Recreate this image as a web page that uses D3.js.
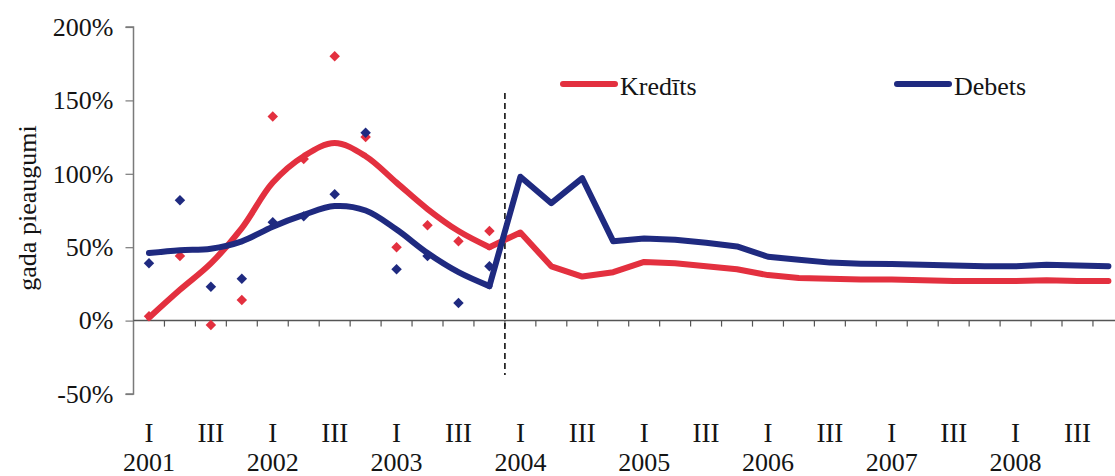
<!DOCTYPE html>
<html>
<head>
<meta charset="utf-8">
<script src="https://cdn.jsdelivr.net/npm/d3@7"></script>
<style>
  html, body { margin: 0; padding: 0; background: #fff; }
  svg { display: block; }
  text { font-family: "Liberation Serif", "Times New Roman", serif; fill: #141414; }
</style>
</head>
<body>
<svg id="chart" width="1115" height="476"></svg>
<script>
// Quarters 2001 Q1 .. 2008 Q4
const years = ["2001", "2002", "2003", "2004", "2005", "2006", "2007", "2008"];
const quarterNames = ["I", "II", "III", "IV"];
const quarterLabels = ["I", "", "III", ""];

// Smoothed trend and forecast (annual growth, %)
const kreditsTrend = [2, 21, 39, 63, 94, 112, 121, 112, 94, 76, 61, 50,
                      60, 37, 30, 33, 40, 39, 37, 35, 31, 29, 28.5, 28,
                      28, 27.5, 27, 27, 27, 27.5, 27, 27];
const debetsTrend  = [46, 48, 49, 54, 64, 72, 78, 75, 62, 46, 33, 23.5,
                      98, 80, 97, 54, 56, 55, 53, 50.5, 43.5, 41.5, 39.5, 38.8,
                      38.5, 38, 37.5, 37, 37, 38, 37.5, 37];

// Actual quarterly observations (annual growth, %)
const kreditsActual = [3, 44, -3, 14, 139, 110, 180, 125, 50, 65, 54, 61];
const debetsActual  = [39, 82, 23, 28.5, 67, 71, 86, 128, 35, 44, 12, 37];

// Last historical quarter; forecast starts after it
const lastActualIndex = 11;

const yTicks = [-50, 0, 50, 100, 150, 200];
const dividerRange = [-37, 155];

const RED = "#e3303f";
const BLUE = "#1f2a80";

const categories = [];
years.forEach(y => quarterNames.forEach(q => categories.push(y + " " + q)));

const svg = d3.select("#chart");

const x = d3.scaleBand()
  .domain(categories)
  .range([133.5, 133.5 + 30.95 * categories.length])
  .paddingInner(0).paddingOuter(0);

const y = d3.scaleLinear().domain([-50, 200]).range([394, 27]);

const cx = i => x(categories[i]) + x.bandwidth() / 2;

// Y axis
const yAxis = svg.append("g")
  .attr("transform", `translate(${x.range()[0]},0)`)
  .call(d3.axisLeft(y).tickValues(yTicks).tickSize(8).tickPadding(12)
        .tickFormat(d => d + "%"));
yAxis.select(".domain").attr("stroke", "#7a7a7a").attr("stroke-width", 1.5)
  .attr("d", `M-8,${y(-50)}H0V${y(200)}H-8`);
yAxis.selectAll(".tick line").attr("stroke", "#7a7a7a").attr("stroke-width", 1.2);
yAxis.selectAll(".tick text").style("font-size", "26px")
  .style("font-family", "'Liberation Serif', serif").attr("fill", "#141414");

// X axis along zero line, ticks between quarters
const xAxisG = svg.append("g").attr("transform", `translate(0,${y(0)})`);
xAxisG.append("line")
  .attr("x1", x.range()[0]).attr("x2", 1115)
  .attr("stroke", "#555").attr("stroke-width", 1.5);
xAxisG.selectAll("line.qtick")
  .data(categories.slice(1))
  .join("line")
  .attr("class", "qtick")
  .attr("x1", d => x(d)).attr("x2", d => x(d))
  .attr("y1", 0).attr("y2", 6)
  .attr("stroke", "#555").attr("stroke-width", 1.2);

// Quarter and year labels
const labelG = svg.append("g");
categories.forEach((c, i) => {
  const q = i % 4;
  if (quarterLabels[q]) {
    labelG.append("text")
      .attr("x", cx(i)).attr("y", 442)
      .attr("text-anchor", "middle")
      .style("font-size", "27px")
      .text(quarterLabels[q]);
  }
  if (q === 0) {
    labelG.append("text")
      .attr("x", cx(i)).attr("y", 471)
      .attr("text-anchor", "middle")
      .style("font-size", "26px")
      .text(years[Math.floor(i / 4)]);
  }
});

// Y axis title
svg.append("text")
  .attr("transform", "translate(36,208) rotate(-90)")
  .attr("text-anchor", "middle")
  .style("font-size", "26px")
  .text("gada pieaugumi");

// Divider between history and forecast
const divX = x(categories[lastActualIndex + 1]);
svg.append("line")
  .attr("x1", divX).attr("x2", divX)
  .attr("y1", y(dividerRange[1])).attr("y2", y(dividerRange[0]))
  .attr("stroke", "#111").attr("stroke-width", 1.6)
  .attr("stroke-dasharray", "6,4");

// Trend lines: smoothed history, straight forecast
function drawSeries(values, color) {
  const pts = values.map((v, i) => [cx(i), y(v)]);
  const hist = pts.slice(0, lastActualIndex + 1);
  const fore = pts.slice(lastActualIndex);
  const g = svg.append("g")
    .attr("fill", "none").attr("stroke", color)
    .attr("stroke-width", 6).attr("stroke-linejoin", "round")
    .attr("stroke-linecap", "round");
  g.append("path").attr("d", d3.line().curve(d3.curveCatmullRom.alpha(0.5))(hist));
  g.append("path").attr("d", d3.line()(fore));
}

function drawPoints(values, color) {
  svg.append("g").selectAll("path")
    .data(values)
    .join("path")
    .attr("transform", (d, i) => `translate(${cx(i)},${y(d)})`)
    .attr("d", d3.symbol(d3.symbolDiamond2, 70))
    .attr("fill", color);
}

drawPoints(kreditsActual, RED);
drawPoints(debetsActual, BLUE);
drawSeries(kreditsTrend, RED);
drawSeries(debetsTrend, BLUE);

// Legend
const legend = [
  { name: "Kredīts", color: RED, x: 563 },
  { name: "Debets", color: BLUE, x: 897 }
];
legend.forEach(l => {
  svg.append("line")
    .attr("x1", l.x).attr("x2", l.x + 52)
    .attr("y1", 84).attr("y2", 84)
    .attr("stroke", l.color).attr("stroke-width", 6)
    .attr("stroke-linecap", "round");
  svg.append("text")
    .attr("x", l.x + 57).attr("y", 95)
    .style("font-size", "26px")
    .text(l.name);
});
</script>
</body>
</html>
